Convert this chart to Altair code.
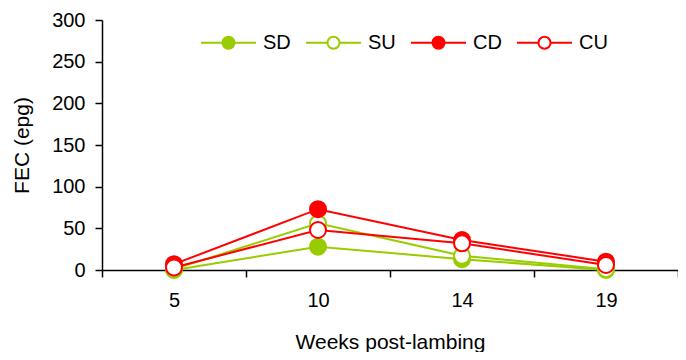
import altair as alt
import pandas as pd

weeks = ["5", "10", "14", "19"]
series_names = ["SD", "SU", "CD", "CU"]
sd_values = [0, 28, 13, 0]
su_values = [1, 56, 17, 1]
cd_values = [7, 73, 36, 10]
cu_values = [3, 48, 32, 6]

stroke_colors = ["#99CC00", "#99CC00", "#FF0000", "#FF0000"]
fill_colors = ["#99CC00", "#FFFFFF", "#FF0000", "#FFFFFF"]

rows = []
for name, vals in zip(series_names, [sd_values, su_values, cd_values, cu_values]):
    for w, v in zip(weeks, vals):
        rows.append({"week": w, "series": name, "fec": v})
df = pd.DataFrame(rows)

FONT = "Liberation Sans"

x_enc = alt.X(
    "week:N",
    sort=weeks,
    scale=alt.Scale(type="band", domain=weeks, paddingInner=0, paddingOuter=0),
    axis=alt.Axis(
        title="Weeks post-lambing",
        labelAngle=0,
        tickBand="extent",
        tickSize=7,
        labelPadding=13,
        titlePadding=21,
        labelFontSize=20,
        titleFontSize=21,
    ),
)
y_enc = alt.Y(
    "fec:Q",
    scale=alt.Scale(domain=[0, 300], nice=False),
    axis=alt.Axis(
        title="FEC (epg)",
        values=[0, 50, 100, 150, 200, 250, 300],
        tickSize=7,
        labelPadding=10,
        titlePadding=19,
        labelFontSize=20,
        titleFontSize=21,
        grid=False,
    ),
)

legend = alt.Legend(
    title=None,
    orient="none",
    legendX=98,
    legendY=-6,
    direction="horizontal",
    symbolType="M-1,0L-0.22,0M0.22,0L1,0M-0.22,0A0.22,0.22 0 1 1 0.22,0A0.22,0.22 0 1 1 -0.22,0",
    symbolSize=3025,
    symbolStrokeWidth=2,
    labelFontSize=20,
    labelOffset=6,
    columnPadding=11,
    padding=0,
)

stroke_enc = alt.Stroke(
    "series:N",
    sort=series_names,
    scale=alt.Scale(domain=series_names, range=stroke_colors),
    legend=legend,
)
fill_enc = alt.Fill(
    "series:N",
    sort=series_names,
    scale=alt.Scale(domain=series_names, range=fill_colors),
    legend=legend,
)

lines = alt.Chart(df).mark_line(strokeWidth=2).encode(
    x=x_enc, y=y_enc, stroke=stroke_enc, detail="series:N"
)
points = alt.Chart(df).mark_point(
    shape="circle", filled=True, size=256, strokeWidth=2, opacity=1
).encode(x=x_enc, y=y_enc, stroke=stroke_enc, fill=fill_enc)

chart = (
    alt.layer(lines, points)
    .properties(
        width=576,
        height=250,
        padding={"left": 94, "top": 12, "right": 0, "bottom": 82},
        autosize=alt.AutoSizeParams(type="none"),
    )
    .configure(font=FONT)
    .configure_view(stroke=None)
    .configure_axis(
        domainColor="black",
        tickColor="black",
        labelColor="black",
        titleColor="black",
        titleFontWeight="normal",
        labelFont=FONT,
        titleFont=FONT,
        domainWidth=1.5,
        tickWidth=1.5,
    )
    .configure_legend(labelColor="black", labelFont=FONT)
)

chart.save("out.html", embed_options={"renderer": "svg", "actions": False})
